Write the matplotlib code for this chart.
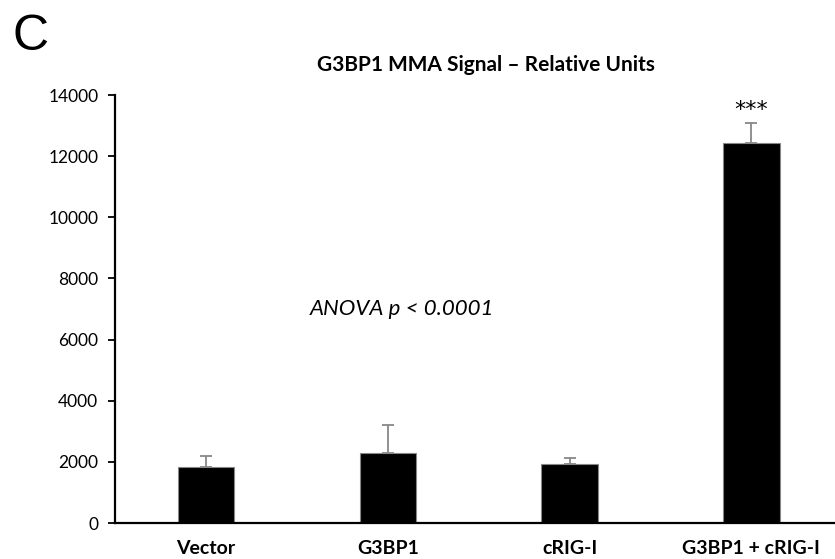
import matplotlib
matplotlib.use("Agg")
import matplotlib.pyplot as plt

# Datos
grupos = ["Vector", "G3BP1", "cRIG-I", "G3BP1 + cRIG-I"]
senal = [1840, 2290, 1930, 12420]
error = [360, 920, 190, 670]
yticks = [0, 2000, 4000, 6000, 8000, 10000, 12000, 14000]

plt.rcParams['font.family'] = ['Lato', 'DejaVu Sans']

fig = plt.figure(figsize=(8.35, 5.59), dpi=100)
ax = fig.add_axes([0.1377, 0.0644, 0.8623, 0.7656])

x = range(len(grupos))
ax.bar(x, senal, width=0.31, color='black', edgecolor='#888888', linewidth=0.8)
ax.errorbar(x, senal, yerr=[[0] * len(error), error], fmt='none',
            ecolor='#888888', elinewidth=1.3, capsize=4, capthick=1.3)

ax.set_xlim(-0.5, 3.46)
ax.set_ylim(0, 14000)
ax.set_yticks(yticks)
ax.set_yticklabels([str(v) for v in yticks], fontsize=12.5)
ax.set_xticks(list(x))
ax.set_xticklabels(grupos, fontsize=14, fontweight='bold')
ax.tick_params(axis='x', length=0, pad=12)
ax.tick_params(axis='y', length=5, width=1.3, direction='out', pad=7)

for lado in ['top', 'right']:
    ax.spines[lado].set_visible(False)
ax.spines['left'].set_linewidth(1.6)
ax.spines['bottom'].set_linewidth(1.6)

# Textos
ax.text(3, 13500, "***", ha='center', va='center', fontsize=16,
        family=['DejaVu Sans'])
ax.text(1.08, 7000, "ANOVA p < 0.0001", ha='center', va='center',
        fontsize=16, fontstyle='italic')
fig.text(486 / 835, 1 - 65 / 559, "G3BP1 MMA Signal \u2013 Relative Units",
         ha='center', va='center', fontsize=15, fontweight='bold')
fig.text(31 / 835, 1 - 50 / 559, "C", ha='center', va='baseline', fontsize=36,
         family=['Liberation Sans', 'DejaVu Sans'])

fig.savefig("out.png", dpi=100)
